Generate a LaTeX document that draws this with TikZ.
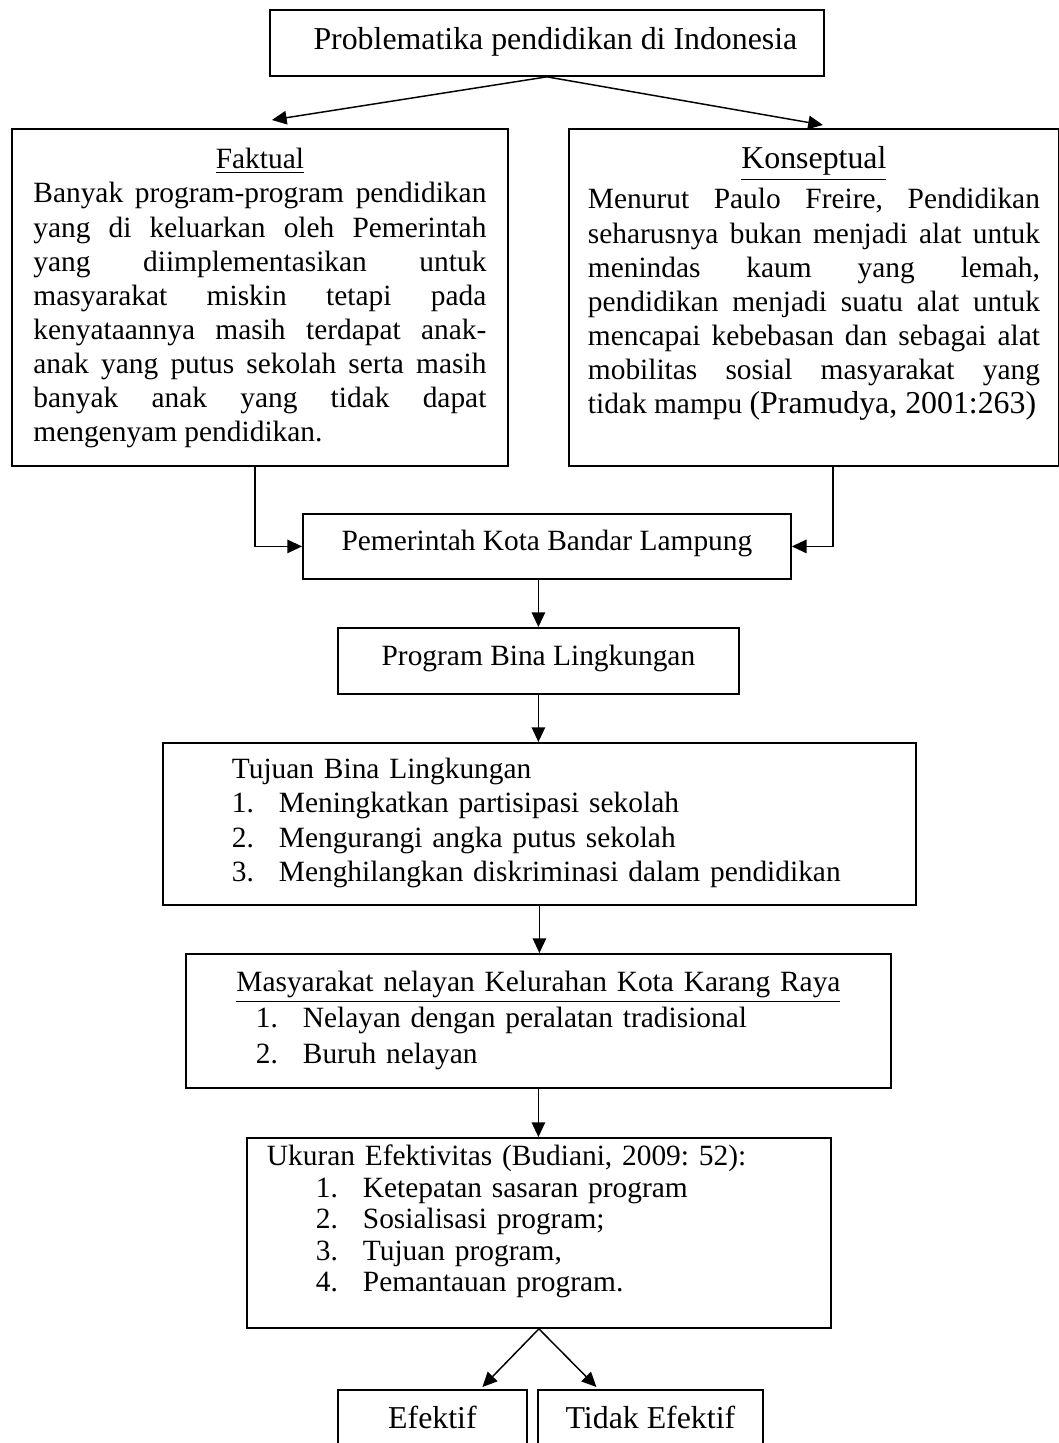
\documentclass[tikz,border=0pt]{standalone}
\usepackage{fontspec}
\setmainfont{Liberation Serif}
\usepackage{tikz}
\usetikzlibrary{arrows.meta}
\newlength\pxl
\setlength\pxl{0.40816pt}
\newcommand\nomor[1]{\makebox[47\pxl][l]{#1}}
\hyphenpenalty=10000
\frenchspacing

\begin{document}
\begin{tikzpicture}[x=0.40816pt,y=-0.40816pt]
  \tikzset{kotak/.style={draw,line width=0.75pt,anchor=north west,inner xsep=0pt,inner ysep=0pt,font=\fontsize{12}{13.9}\selectfont}}
  \tikzset{panah/.style={line width=0.6pt,-{Triangle[length=6pt,width=5.5pt]}}}
  \useasboundingbox (0,0) rectangle (1059,1443);
  \clip (0,0) rectangle (1059,1443);

  \node[kotak,font=\fontsize{13}{15}\selectfont,minimum width=554*\pxl,text height=40*\pxl,text depth=26*\pxl] (masalah) at (269,9)
    {\hspace*{17\pxl}Problematika pendidikan di Indonesia};

  \node[kotak,inner xsep=21.5*\pxl,text width=453*\pxl,align=justify,text height=40*\pxl,text depth=297*\pxl] (faktual) at (11,128)
    {\makebox[\linewidth]{\underline{Faktual}}\\
     Banyak program-program pendidikan\linebreak
     yang di keluarkan oleh Pemerintah\linebreak
     yang diimplementasikan untuk\linebreak
     masyarakat miskin tetapi pada\linebreak
     kenyataannya masih terdapat anak-\linebreak
     anak yang putus sekolah serta masih\linebreak
     banyak anak yang tidak dapat\linebreak
     mengenyam pendidikan.};

  \node[kotak,inner xsep=19*\pxl,text width=452*\pxl,align=justify,text height=40*\pxl,text depth=297*\pxl] (konsep) at (568,128)
    {\parfillskip=0pt
     \makebox[\linewidth]{\fontsize{13}{15}\selectfont\underline{Konseptual}}\\[6\pxl]
     Menurut Paulo Freire, Pendidikan\linebreak
     seharusnya bukan menjadi alat untuk\linebreak
     menindas kaum yang lemah,\linebreak
     pendidikan menjadi suatu alat untuk\linebreak
     mencapai kebebasan dan sebagai alat\linebreak
     mobilitas sosial masyarakat yang\linebreak
     tidak mampu {\fontsize{13}{15}\selectfont(Pramudya, 2001:263)}};

  \node[kotak,minimum width=488*\pxl,text height=37*\pxl,text depth=28*\pxl] (pemda) at (302,513)
    {Pemerintah Kota Bandar Lampung};

  \node[kotak,minimum width=401*\pxl,text height=38*\pxl,text depth=28*\pxl] (program) at (337,627)
    {Program Bina Lingkungan};

  \node[kotak,inner xsep=69*\pxl,text width=615*\pxl,align=left,text height=36*\pxl,text depth=126*\pxl] (tujuan) at (162,742)
    {Tujuan Bina Lingkungan\\
     \nomor{1.}Meningkatkan partisipasi sekolah\\
     \nomor{2.}Mengurangi angka putus sekolah\\
     \nomor{3.}Menghilangkan diskriminasi dalam pendidikan};

  \node[kotak,font=\fontsize{12}{14.7}\selectfont,inner xsep=70*\pxl,text width=565*\pxl,align=left,text height=38*\pxl,text depth=96*\pxl] (warga) at (185,953)
    {\makebox[\linewidth]{\underline{Masyarakat nelayan Kelurahan Kota Karang Raya}}\\
     \nomor{1.}Nelayan dengan peralatan tradisional\\
     \nomor{2.}Buruh nelayan};

  \node[kotak,font=\fontsize{12}{12.8}\selectfont,inner xsep=20*\pxl,text width=544*\pxl,align=left,text height=28*\pxl,text depth=162*\pxl] (ukuran) at (246,1137)
    {Ukuran Efektivitas (Budiani, 2009: 52):\\
     \hspace*{49\pxl}\nomor{1.}Ketepatan sasaran program\\
     \hspace*{49\pxl}\nomor{2.}Sosialisasi program;\\
     \hspace*{49\pxl}\nomor{3.}Tujuan program,\\
     \hspace*{49\pxl}\nomor{4.}Pemantauan program.};

  \node[kotak,font=\fontsize{13}{15}\selectfont,minimum width=189*\pxl,text height=39*\pxl,text depth=70*\pxl] (efektif) at (337,1389)
    {Efektif};
  \node[kotak,font=\fontsize{13}{15}\selectfont,minimum width=225*\pxl,text height=39*\pxl,text depth=70*\pxl] (tidak) at (537,1389)
    {Tidak Efektif};

  \draw[panah] (masalah.south) -- ([xshift=12*\pxl,yshift=8*\pxl]faktual.north);
  \draw[panah] (masalah.south) -- ([xshift=9*\pxl,yshift=3*\pxl]konsep.north);
  \draw[panah] ([xshift=-5*\pxl]faktual.south) |- (pemda.west);
  \draw[panah] ([xshift=19*\pxl]konsep.south) |- (pemda.east);
  \draw[panah] (program.north |- pemda.south) -- (program.north);
  \draw[panah] (program.south) -- (program.south |- tujuan.north);
  \draw[panah] (tujuan.south) -- (tujuan.south |- warga.north);
  \draw[panah] (warga.south) -- (warga.south |- ukuran.north);
  \draw[panah] (ukuran.south) -- ([xshift=50*\pxl,yshift=2*\pxl]efektif.north);
  \draw[panah] (ukuran.south) -- ([xshift=-54*\pxl,yshift=2*\pxl]tidak.north);
\end{tikzpicture}
\end{document}
